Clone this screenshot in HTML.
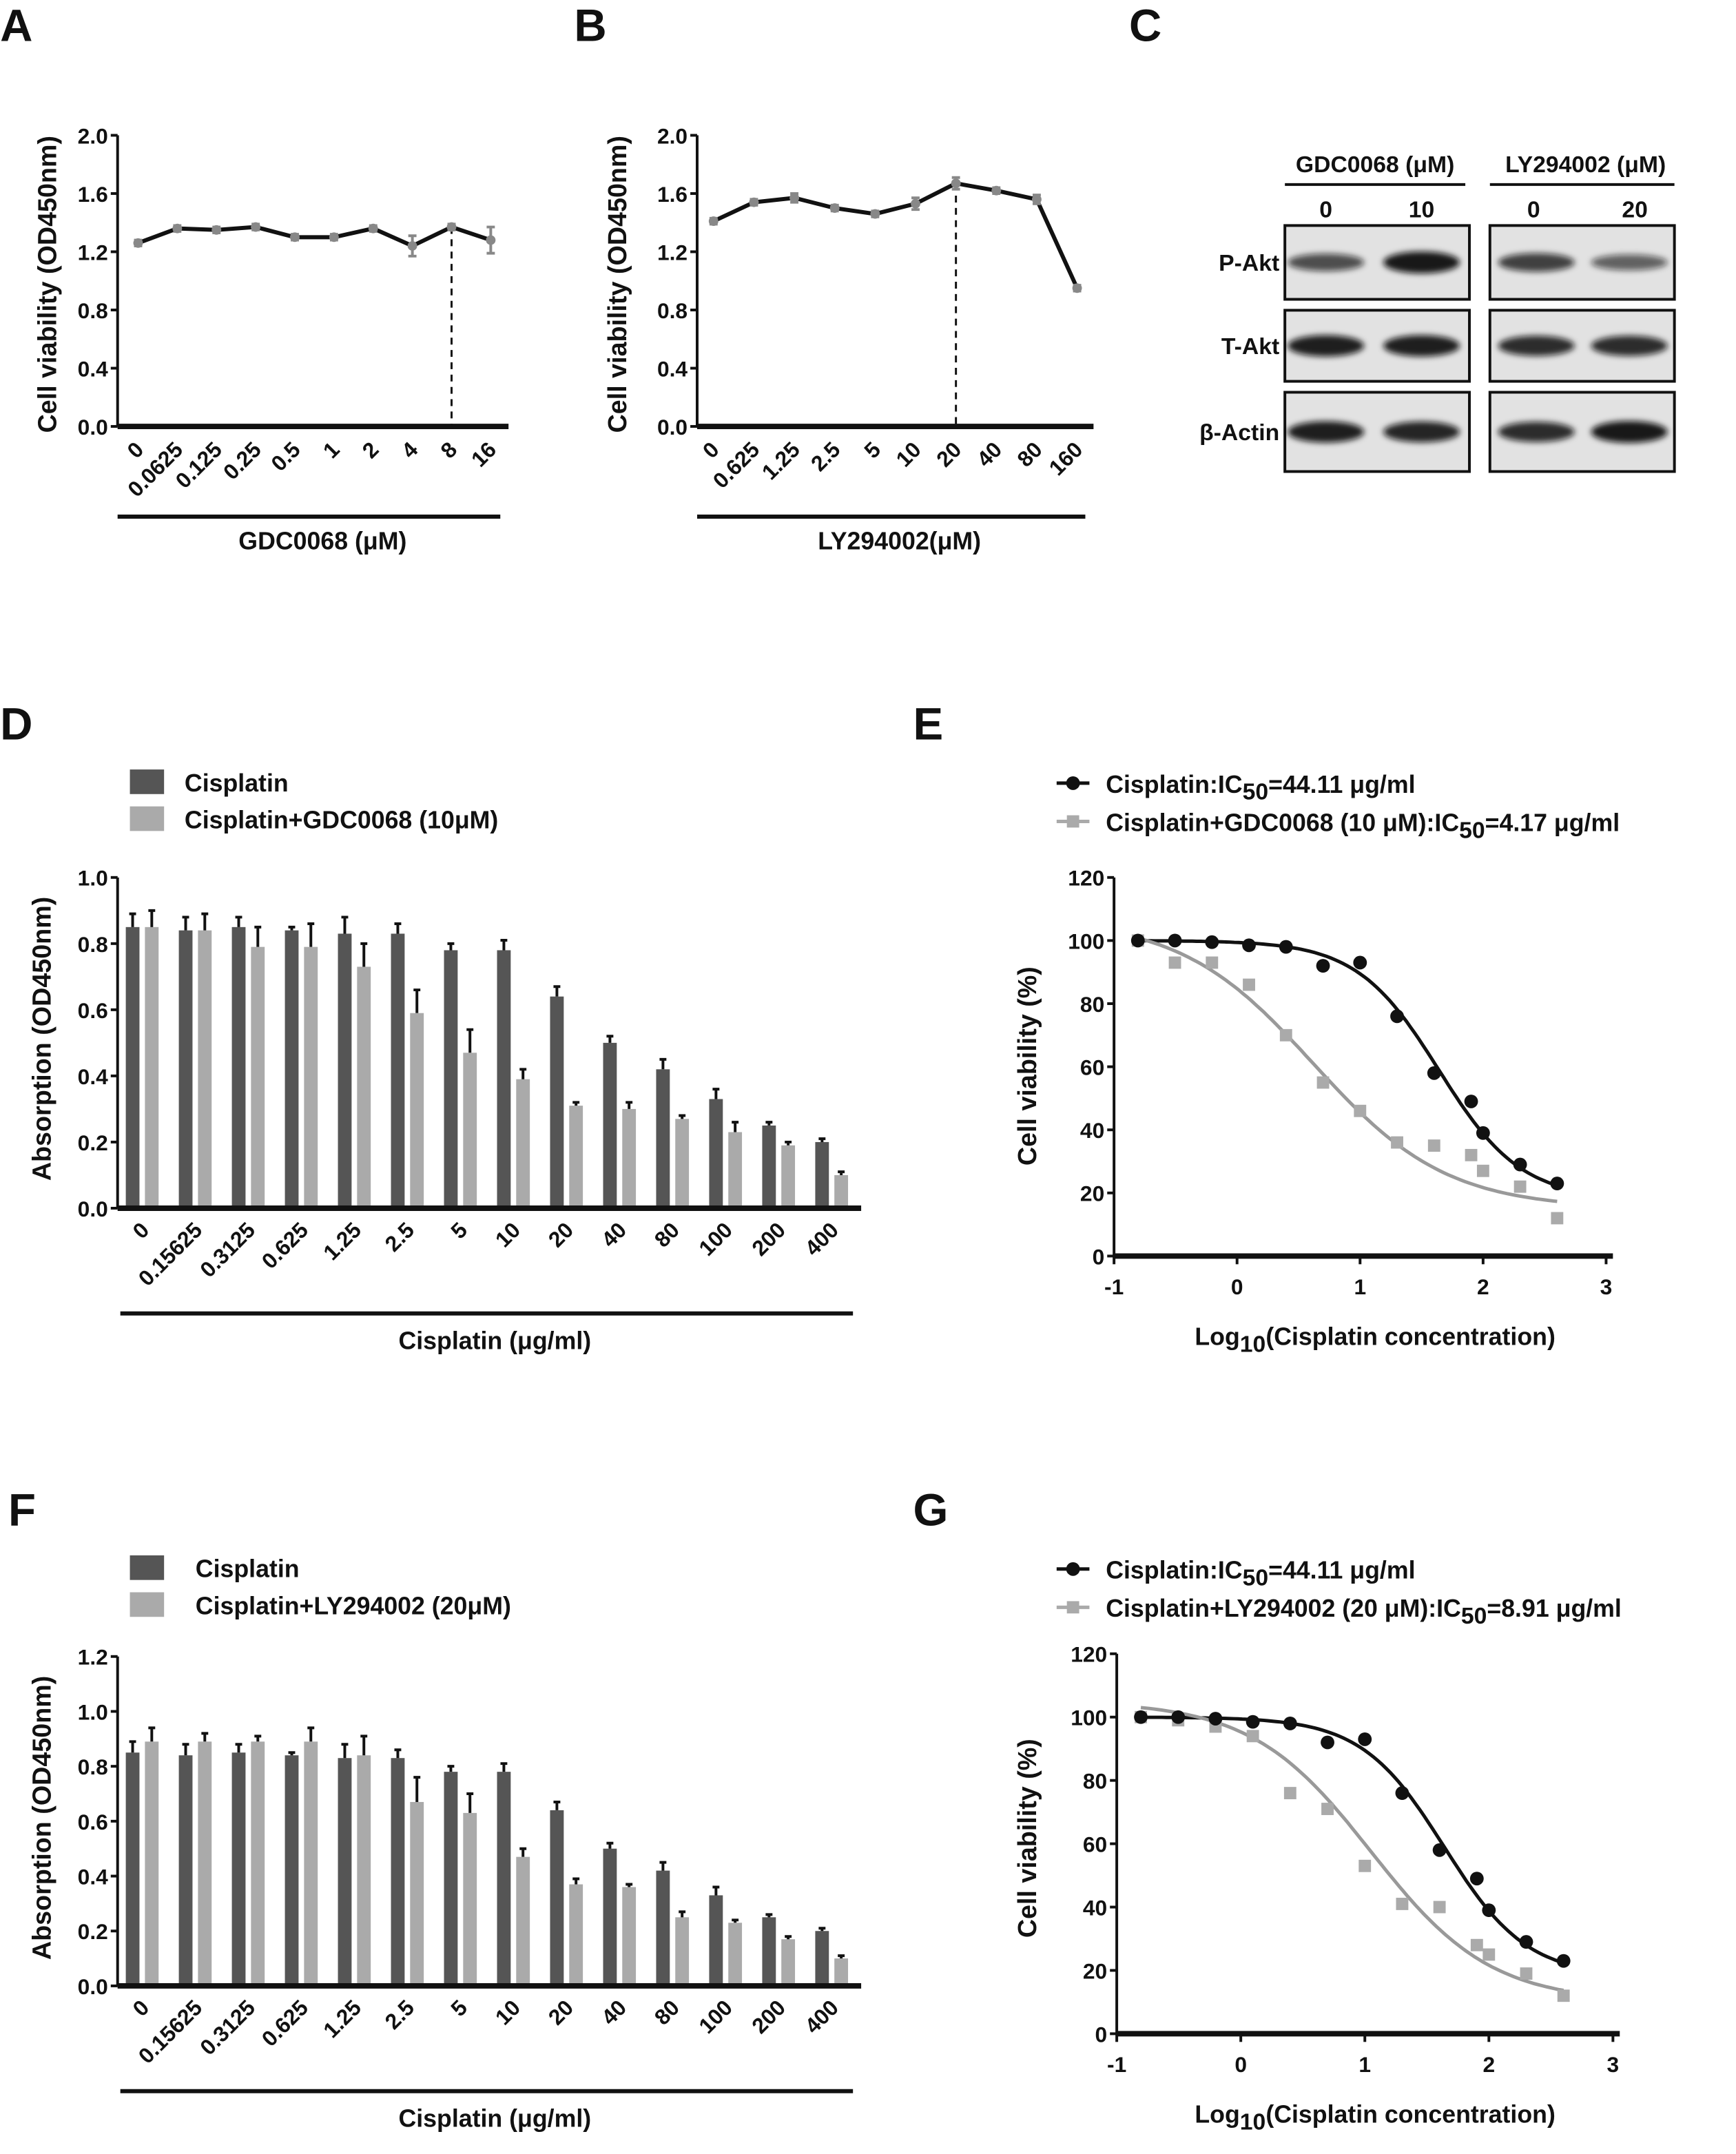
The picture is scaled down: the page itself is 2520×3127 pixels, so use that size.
<!DOCTYPE html>
<html><head><meta charset="utf-8">
<style>
html,body{margin:0;padding:0;background:#fff;}
svg{display:block;}
text{font-family:"Liberation Sans",Arial,sans-serif;font-weight:bold;fill:#111;}
</style></head>
<body>
<svg id="fig" xmlns="http://www.w3.org/2000/svg" width="2520" height="3127" viewBox="0 0 1270 1576">
<defs>
<filter id="blur" x="-20%" y="-50%" width="140%" height="200%"><feGaussianBlur stdDeviation="2.2"/></filter>
</defs>
</svg>
<script>
// ---------- data ----------
const aCats = ["0","0.0625","0.125","0.25","0.5","1","2","4","8","16"];
const aVals = [1.26,1.36,1.35,1.37,1.30,1.30,1.36,1.24,1.37,1.28];
const aErr  = [0.02,0.02,0.02,0.02,0.02,0.02,0.02,0.07,0.02,0.09];
const aTicks = [0.0,0.4,0.8,1.2,1.6,2.0];
const bCats = ["0","0.625","1.25","2.5","5","10","20","40","80","160"];
const bVals = [1.41,1.54,1.57,1.50,1.46,1.53,1.67,1.62,1.56,0.95];
const bErr  = [0.02,0.02,0.03,0.02,0.02,0.04,0.04,0.02,0.03,0.02];
const barCats = ["0","0.15625","0.3125","0.625","1.25","2.5","5","10","20","40","80","100","200","400"];
const cisVals = [0.85,0.84,0.85,0.84,0.83,0.83,0.78,0.78,0.64,0.50,0.42,0.33,0.25,0.20];
const cisErr  = [0.04,0.04,0.03,0.01,0.05,0.03,0.02,0.03,0.03,0.02,0.03,0.03,0.01,0.01];
const gdcVals = [0.85,0.84,0.79,0.79,0.73,0.59,0.47,0.39,0.31,0.30,0.27,0.23,0.19,0.10];
const gdcErr  = [0.05,0.05,0.06,0.07,0.07,0.07,0.07,0.03,0.01,0.02,0.01,0.03,0.01,0.01];
const lyVals  = [0.89,0.89,0.89,0.89,0.84,0.67,0.63,0.47,0.37,0.36,0.25,0.23,0.17,0.10];
const lyErr   = [0.05,0.03,0.02,0.05,0.07,0.09,0.07,0.03,0.02,0.01,0.02,0.01,0.01,0.01];
const dTicks = [0.0,0.2,0.4,0.6,0.8,1.0];
const fTicks = [0.0,0.2,0.4,0.6,0.8,1.0,1.2];
const logX = [-0.806,-0.505,-0.204,0.097,0.398,0.699,1.0,1.301,1.602,1.903,2.0,2.301,2.602];
const eCis = [100,100,99.5,98.5,98,92,93,76,58,49,39,29,23];
const eGdc = [100,93,93,86,70,55,46,36,35,32,27,22,12];
const gLy  = [100,99,97,94,76,71,53,41,40,28,25,19,12];
const vTicks = [0,20,40,60,80,100,120];
const xTicks = [-1,0,1,2,3];
const fitCis = [100,18,1.64,1.3];   // top,bottom,logIC50,hill
const fitGdc = [107,15,0.62,0.8];
const fitLy  = [105,10,1.05,0.9];

const NS="http://www.w3.org/2000/svg";
const svg=document.getElementById('fig');
function mk(tag,attrs,parent){const e=document.createElementNS(NS,tag);for(const k in attrs)e.setAttribute(k,attrs[k]);(parent||svg).appendChild(e);return e;}
function txt(s,attrs,parent){const e=mk('text',attrs,parent);e.textContent=s;return e;}

function panelLetter(s,x,y){const t=txt(s,{x:x,y:y,'font-size':33});

}

function yAxis(g,x,y0,y1,ticks,max,fmt){
 const ax=mk('line',{x1:x,y1:y0,x2:x,y2:y1,stroke:'#111','stroke-width':2},g);
 
 
 ticks.forEach(t=>{const y=y0-(t/max)*(y0-y1);
  mk('line',{x1:x-5,y1:y,x2:x,y2:y,stroke:'#111','stroke-width':2},g);
  const l=txt(fmt(t),{x:x-7,y:y+6,'font-size':16,'text-anchor':'end'},g);
  
  });
}
function rotLabel(g,s,x,y,size,name){const t=txt(s,{x:x,y:y,'font-size':size,'text-anchor':'middle',transform:`rotate(-90 ${x} ${y})`},g);
 
 }

// ---------- line panels A,B ----------
function linePanel(id,cats,vals,errs,x0,x1,xs,y0,y1,dashIdx,xtitle,titleX,ytx){
 const g=mk('g',{});
 
 
 yAxis(g,x0,y0,y1,aTicks,2.0,t=>t.toFixed(1));
 const xa=mk('line',{x1:x0,y1:y0,x2:x1,y2:y0,stroke:'#111','stroke-width':4},g);
 
 
 const ys=v=>y0-(v/2.0)*(y0-y1);
 const n=cats.length, step=(xs[1]-xs[0])/(n-1);
 const X=i=>xs[0]+i*step;
 const dl=mk('line',{x1:X(dashIdx),y1:ys(vals[dashIdx]),x2:X(dashIdx),y2:y0,stroke:'#111','stroke-width':1.5,'stroke-dasharray':'5,4'},g);
 
 
 const pl=mk('polyline',{points:vals.map((v,i)=>X(i)+','+ys(v)).join(' '),fill:'none',stroke:'#111','stroke-width':3},g);
 
 
 vals.forEach((v,i)=>{
  const eb=mk('path',{d:`M${X(i)} ${ys(v+errs[i])}V${ys(v-errs[i])}M${X(i)-3} ${ys(v+errs[i])}h6M${X(i)-3} ${ys(v-errs[i])}h6`,stroke:'#888','stroke-width':2,fill:'none'},g);
  
  
  const c=mk('circle',{cx:X(i),cy:ys(v),r:3.5,fill:'#888'},g);
  
  
  const tx=X(i)+5, ty=y0+18;
  const l=txt(cats[i],{x:tx,y:ty,'font-size':16,'text-anchor':'end',transform:`rotate(-45 ${tx} ${ty})`},g);
  
  
 });
 const ul=mk('line',{x1:x0,y1:378,x2:x1-6,y2:378,stroke:'#111','stroke-width':3},g);
 
 
 const xt=txt(xtitle,{x:titleX,y:402,'font-size':18,'text-anchor':'middle'},g);
 
 
 rotLabel(g,'Cell viability (OD450nm)',ytx,208,19,'y-axis-title');
}
panelLetter('A',0,30);
panelLetter('B',420,30);
panelLetter('C',826,30);
linePanel('a',aCats,aVals,aErr,86,372,[101,359],312,99,8,'GDC0068 (μM)',236,41);
linePanel('b',bCats,bVals,bErr,510,800,[522,788],312,99,6,'LY294002(μM)',658,458);

// ---------- western blot C ----------
(function(){
 const g=mk('g',{});
 
 
 const h1=txt('GDC0068 (μM)',{x:1006,y:126,'font-size':17,'text-anchor':'middle'},g);
 
 
 const h2=txt('LY294002 (μM)',{x:1160,y:126,'font-size':17,'text-anchor':'middle'},g);
 
 
 mk('line',{x1:940,y1:135,x2:1072,y2:135,stroke:'#111','stroke-width':2},g);
 mk('line',{x1:1090,y1:135,x2:1225,y2:135,stroke:'#111','stroke-width':2},g);
 [['0',970],['10',1040],['0',1122],['20',1196]].forEach(d=>{const t=txt(d[0],{x:d[1],y:159,'font-size':17,'text-anchor':'middle'},g);
  
  });
 const rows=[['P-Akt',165,219,[0.6,1.0,0.7,0.45]],['T-Akt',227,279,[0.95,0.95,0.85,0.85]],['β-Actin',287,345,[0.95,0.9,0.85,1.0]]];
 const lanes=[[940,1075,[970,1040]],[1090,1225,[1124,1192]]];
 rows.forEach(r=>{
  const lab=txt(r[0],{x:936,y:(r[1]+r[2])/2+6,'font-size':17,'text-anchor':'end'},g);
  
  
  lanes.forEach((ln,li)=>{
   const b=mk('rect',{x:ln[0],y:r[1],width:ln[1]-ln[0],height:r[2]-r[1],fill:'#e2e2e2',stroke:'#111','stroke-width':2},g);
   
   
   ln[2].forEach((cx,k)=>{const inten=r[3][li*2+k];
    const band=mk('ellipse',{cx:cx,cy:(r[1]+r[2])/2,rx:28,ry:4+4*inten,fill:'#111','fill-opacity':0.35+0.6*inten,filter:'url(#blur)'},g);
    
    });
  });
 });
})();

// ---------- bar panels D,F ----------
function barPanel(id,vals2,errs2,label2,ticks,max,y0,y1,legY,titleY,ytY){
 const g=mk('g',{});
 
 
 const lg1=mk('rect',{x:95,y:legY,width:25,height:18,fill:'#555'},g);
 
 
 const lt1=txt('Cisplatin',{x:id==='d'?135:143,y:legY+16,'font-size':18},g);
 
 
 const lg2=mk('rect',{x:95,y:legY+27,width:25,height:18,fill:'#aaa'},g);
 
 
 const lt2=txt(label2,{x:id==='d'?135:143,y:legY+43,'font-size':18},g);
 
 
 yAxis(g,86,y0,y1,ticks,max,t=>t.toFixed(1));
 const ys=v=>y0-(v/max)*(y0-y1);
 const step=38.8, bw=10;
 barCats.forEach((c,i)=>{
  const xd=92+i*step, xl=106+i*step;
  [[xd,cisVals[i],cisErr[i],'#555','bar-cisplatin'],[xl,vals2[i],errs2[i],'#aaa','bar-combo']].forEach(b=>{
   const r=mk('rect',{x:b[0],y:ys(b[1]),width:bw,height:y0-ys(b[1]),fill:b[3]},g);
   
   
   const cx=b[0]+bw/2, ty=ys(b[1]+b[2]);
   const e=mk('path',{d:`M${cx} ${ys(b[1])}V${ty}M${cx-2.5} ${ty}h5`,stroke:'#111','stroke-width':2,fill:'none'},g);
   
   
  });
  const tx=104+i*step+6, ty=y0+17;
  const l=txt(c,{x:tx,y:ty,'font-size':16,'text-anchor':'end',transform:`rotate(-45 ${tx} ${ty})`},g);
  
  
 });
 const xa=mk('line',{x1:86,y1:y0,x2:630,y2:y0,stroke:'#111','stroke-width':4},g);
 
 
 const ul=mk('line',{x1:88,y1:titleY-20,x2:624,y2:titleY-20,stroke:'#111','stroke-width':3},g);
 
 
 const xt=txt('Cisplatin (μg/ml)',{x:362,y:titleY+6,'font-size':18,'text-anchor':'middle'},g);
 
 
 rotLabel(g,'Absorption  (OD450nm)',37,ytY,19,'y-axis-title');
}
panelLetter('D',0,541);
panelLetter('F',6,1116);
barPanel('d',gdcVals,gdcErr,'Cisplatin+GDC0068 (10μM)',dTicks,1.0,884,642,563,981,760);
barPanel('f',lyVals,lyErr,'Cisplatin+LY294002 (20μM)',fTicks,1.2,1453,1212,1138,1550,1330);

// ---------- dose-response panels E,G ----------
function fit(p,x){return p[1]+(p[0]-p[1])/(1+Math.pow(10,(x-p[2])*p[3]));}
function drPanel(id,vals2,fit2,label2,ax,y0,y1,xr,legY,ytY,xtY){
 const g=mk('g',{});
 
 
 const X=v=>ax+(v+1)/4*(xr-ax), Y=v=>y0-v/120*(y0-y1);
 yAxis(g,ax,y0,y1,vTicks,120,t=>String(t));
 const xa=mk('line',{x1:ax,y1:y0,x2:xr+5,y2:y0,stroke:'#111','stroke-width':4},g);
 
 
 xTicks.forEach(t=>{mk('line',{x1:X(t),y1:y0,x2:X(t),y2:y0+6,stroke:'#111','stroke-width':2},g);
  const l=txt(String(t),{x:X(t),y:y0+28,'font-size':16,'text-anchor':'middle'},g);
  
  });
 [[fitCis,'#111','fit-curve-cisplatin'],[fit2,'#999','fit-curve-combo']].forEach(f=>{
  let d='';for(let k=0;k<=100;k++){const x=logX[0]+(logX[12]-logX[0])*k/100;d+=(k?'L':'M')+X(x).toFixed(1)+' '+Y(fit(f[0],x)).toFixed(1);}
  const p=mk('path',{d:d,fill:'none',stroke:f[1],'stroke-width':2.5},g);
  
  });
 logX.forEach((x,i)=>{
  const s=mk('rect',{x:X(x)-4.5,y:Y(vals2[i])-4.5,width:9,height:9,fill:'#aaa'},g);
  
  
  const c=mk('circle',{cx:X(x),cy:Y(eCis[i]),r:5,fill:'#111'},g);
  
  
 });
 mk('line',{x1:773,y1:legY,x2:797,y2:legY,stroke:'#111','stroke-width':2.5},g);
 const lc=mk('circle',{cx:785,cy:legY,r:5,fill:'#111'},g);
 
 
 const t1=txt('',{x:809,y:legY+7,'font-size':18},g);
 t1.innerHTML='Cisplatin:IC<tspan dy="5" font-size="17">50</tspan><tspan dy="-5">=44.11 μg/ml</tspan>';
 
 
 mk('line',{x1:773,y1:legY+28,x2:797,y2:legY+28,stroke:'#aaa','stroke-width':2.5},g);
 const ls=mk('rect',{x:780.5,y:legY+23.5,width:9,height:9,fill:'#aaa'},g);
 
 
 const t2=txt('',{x:809,y:legY+35,'font-size':18},g);
 t2.innerHTML=label2;
 
 
 rotLabel(g,'Cell viability (%)',758,ytY,19,'y-axis-title');
 const xt=txt('',{x:1006,y:xtY,'font-size':18,'text-anchor':'middle'},g);
 xt.innerHTML='Log<tspan dy="5" font-size="17">10</tspan><tspan dy="-5">(Cisplatin concentration)</tspan>';
 
 
}
panelLetter('E',668,541);
panelLetter('G',668,1116);
drPanel('e',eGdc,fitGdc,'Cisplatin+GDC0068 (10 μM):IC<tspan dy="5" font-size="17">50</tspan><tspan dy="-5">=4.17 μg/ml</tspan>',815,919,642,1175,573,780,984);
drPanel('g',gLy,fitLy,'Cisplatin+LY294002 (20 μM):IC<tspan dy="5" font-size="17">50</tspan><tspan dy="-5">=8.91 μg/ml</tspan>',817,1488,1210,1180,1148,1345,1553);
</script>
</body></html>
